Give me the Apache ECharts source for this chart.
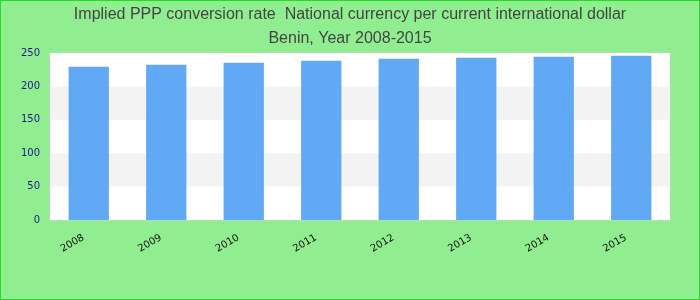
<!DOCTYPE html>
<html>
<head>
<meta charset="utf-8">
<script src="https://cdn.jsdelivr.net/npm/echarts@6/dist/echarts.min.js"></script>
<style>
html,body{margin:0;padding:0;}
#c{width:700px;height:300px;box-sizing:border-box;border:1px solid #22dd22;background:#90EE90;}
</style>
</head>
<body>
<div id="c"></div>
<script>
var categories = ['2008','2009','2010','2011','2012','2013','2014','2015'];
var values = [229.5, 232.4, 235.4, 238.4, 241.4, 243.0, 244.5, 246.0];
var yTicks = [0, 50, 100, 150, 200, 250];
var titleLines = ['Implied PPP conversion rate  National currency per current international dollar', 'Benin, Year 2008-2015'];

var chart = echarts.init(document.getElementById('c'), null, {renderer:'canvas'});
chart.setOption({
  animation:false,
  backgroundColor:'transparent',
  title:{
    text: titleLines.join('\n'),
    left:'center', top:-3,
    textStyle:{fontFamily:'Liberation Sans', fontSize:16, fontWeight:'normal', color:'#444', lineHeight:24}
  },
  grid:{left:49, right:29, top:52, bottom:79, show:true, borderColor:'#d0d0d0', borderWidth:1, backgroundColor:'#fff'},
  xAxis:{
    type:'category', data:categories,
    axisLine:{show:false}, axisTick:{show:false},
    axisLabel:{rotate:30, margin:14, padding:[0,6,0,0], fontFamily:'DejaVu Sans', fontSize:10, color:'#111'}
  },
  yAxis:{
    type:'value', min:yTicks[0], max:yTicks[yTicks.length-1], interval:50,
    axisLine:{show:false}, axisTick:{show:false},
    splitLine:{show:false},
    splitArea:{show:true, areaStyle:{color:['#ffffff','#f3f3f3']}},
    axisLabel:{margin:10, fontFamily:'DejaVu Sans', fontSize:10, color:'#1a1a8a'}
  },
  series:[{
    type:'bar', data:values, barWidth:'52%',
    itemStyle:{color:'#62a9f5'}
  }]
});
</script>
</body>
</html>
